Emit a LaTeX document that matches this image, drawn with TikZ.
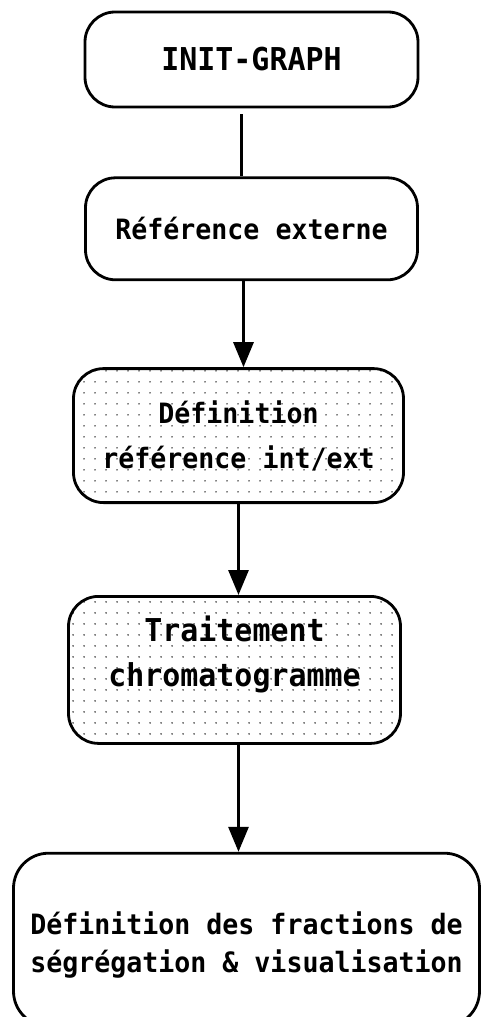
\documentclass[tikz,border=0pt]{standalone}
\usepackage{fontspec}
\setmonofont{DejaVu Sans Mono}[FakeStretch=0.95]
\usetikzlibrary{arrows.meta, positioning, patterns.meta}

\begin{document}
\begin{tikzpicture}[
        x=1pt, y=1pt,
        box/.style={rectangle, draw, line width=2.8pt, rounded corners=30pt, align=center, minimum width=332pt, font=\ttfamily\bfseries\fontsize{28}{45}\selectfont},
        bigtext/.style={font=\ttfamily\bfseries\fontsize{31.5}{45}\selectfont},
        dots/.style={pattern={Dots[distance=10.5pt, radius=0.8pt]}},
        arrow/.style={-{Triangle[length=25pt, width=20pt]}, line width=3pt},
        link/.style={line width=3pt}
    ]
    \useasboundingbox (-251.5,59.5) rectangle (229.5,-957.5);

    % Start
    \node[box, bigtext, minimum width=333pt, minimum height=95pt] (init) at (0,0) {INIT-GRAPH};

    % Steps
    \node[box, minimum height=102pt, below=68pt of init] (extref) {Référence externe};
    \node[box, dots, minimum width=330pt, minimum height=134pt, below=86pt of extref, xshift=-13pt] (defref) {Définition\\référence int/ext};
    \node[box, bigtext, dots, minimum height=147pt, text depth=37pt, below=91pt of defref, xshift=-4pt] (trait) {Traitement\\chromatogramme};

    % End
    \node[box, minimum width=466pt, minimum height=173pt, rounded corners=35pt, font=\ttfamily\bfseries\fontsize{28}{38}\selectfont, text height=72pt, below=107pt of trait, xshift=12pt] (fractions) {Définition des fractions de\\ségrégation \& visualisation};

    % Links
    \draw[link, shorten <=6pt] ([xshift=-9.5pt]init.south) -- ([xshift=-9.5pt]init.south |- extref.north);
    \draw[arrow] ([xshift=-8pt]extref.south) -- ([xshift=-8pt]extref.south |- defref.north);
    \draw[arrow] (defref.south) -- (defref.south |- trait.north);
    \draw[arrow] ([xshift=4pt]trait.south) -- ([xshift=4pt]trait.south |- fractions.north);

\end{tikzpicture}
\end{document}
